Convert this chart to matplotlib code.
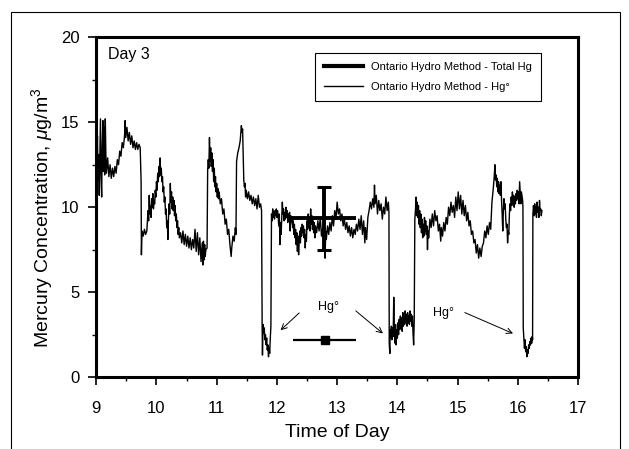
import matplotlib
matplotlib.use("Agg")
import matplotlib.pyplot as plt
from matplotlib.lines import Line2D
from matplotlib.patches import Rectangle

plt.rcParams['font.family'] = ['Liberation Sans', 'DejaVu Sans']
plt.rcParams['mathtext.fontset'] = 'custom'
plt.rcParams['mathtext.rm'] = 'Liberation Sans'
plt.rcParams['mathtext.it'] = 'Liberation Sans:italic'

# Hg0 trace (time of day, ug/m3)
time_h = [
    9.00, 9.01, 9.02, 9.03, 9.04, 9.05, 9.06, 9.07, 9.08, 9.09, 9.10, 9.11, 9.12, 9.13, 9.14, 9.15, 9.16, 9.17,
    9.19, 9.21, 9.23, 9.25, 9.27, 9.29, 9.31, 9.33, 9.35, 9.37, 9.39, 9.41, 9.43, 9.45, 9.47, 9.48, 9.49, 9.51,
    9.53, 9.55, 9.57, 9.59, 9.61, 9.63, 9.65, 9.67, 9.69, 9.71, 9.73, 9.745, 9.75, 9.76, 9.78, 9.80, 9.82, 9.84,
    9.86, 9.87, 9.88, 9.89, 9.90, 9.91, 9.92, 9.93, 9.94, 9.95, 9.96, 9.97, 9.98, 9.99, 10.00, 10.01, 10.02, 10.03,
    10.04, 10.05, 10.06, 10.07, 10.08, 10.09, 10.10, 10.11, 10.12, 10.13, 10.14, 10.15, 10.16, 10.17, 10.18, 10.19,
    10.20, 10.21, 10.22, 10.23, 10.24, 10.25, 10.26, 10.27, 10.28, 10.29, 10.30, 10.31, 10.32, 10.33, 10.34, 10.35,
    10.36, 10.37, 10.38, 10.40, 10.42, 10.44, 10.46, 10.48, 10.50, 10.52, 10.54, 10.56, 10.58, 10.60, 10.62, 10.64,
    10.66, 10.68, 10.70, 10.72, 10.74, 10.76, 10.77, 10.78, 10.79, 10.80, 10.81, 10.82, 10.84, 10.85, 10.86, 10.87,
    10.88, 10.89, 10.90, 10.91, 10.92, 10.93, 10.94, 10.95, 10.96, 10.97, 10.98, 10.99, 11.00, 11.01, 11.02, 11.03,
    11.04, 11.06, 11.08, 11.10, 11.12, 11.14, 11.16, 11.18, 11.20, 11.22, 11.24, 11.25, 11.27, 11.29, 11.31, 11.32,
    11.33, 11.35, 11.37, 11.39, 11.41, 11.42, 11.43, 11.44, 11.45, 11.46, 11.47, 11.48, 11.49, 11.51, 11.53, 11.55,
    11.57, 11.59, 11.61, 11.63, 11.65, 11.67, 11.69, 11.71, 11.73, 11.745, 11.755, 11.76, 11.77, 11.78, 11.79, 11.80,
    11.81, 11.82, 11.83, 11.84, 11.85, 11.86, 11.87, 11.88, 11.89, 11.90, 11.91, 11.92, 11.93, 11.94, 11.95, 11.96,
    11.97, 11.98, 11.99, 12.00, 12.01, 12.02, 12.03, 12.04, 12.05, 12.06, 12.07, 12.08, 12.09, 12.10, 12.11, 12.12,
    12.13, 12.14, 12.15, 12.16, 12.17, 12.18, 12.19, 12.20, 12.21, 12.22, 12.23, 12.24, 12.25, 12.26, 12.27, 12.28,
    12.29, 12.30, 12.31, 12.32, 12.33, 12.34, 12.35, 12.36, 12.37, 12.38, 12.39, 12.40, 12.41, 12.42, 12.43, 12.44,
    12.45, 12.46, 12.47, 12.48, 12.49, 12.50, 12.51, 12.52, 12.53, 12.54, 12.55, 12.56, 12.57, 12.58, 12.59, 12.60,
    12.61, 12.62, 12.63, 12.64, 12.66, 12.68, 12.70, 12.72, 12.74, 12.76, 12.78, 12.79, 12.80, 12.81, 12.82, 12.84,
    12.86, 12.88, 12.90, 12.92, 12.94, 12.96, 12.98, 13.00, 13.02, 13.04, 13.06, 13.08, 13.10, 13.12, 13.14, 13.16,
    13.18, 13.20, 13.22, 13.24, 13.26, 13.28, 13.30, 13.32, 13.34, 13.36, 13.38, 13.40, 13.42, 13.44, 13.46, 13.47,
    13.49, 13.51, 13.53, 13.55, 13.57, 13.59, 13.61, 13.62, 13.63, 13.65, 13.67, 13.69, 13.71, 13.73, 13.75, 13.77,
    13.79, 13.81, 13.83, 13.85, 13.86, 13.865, 13.875, 13.88, 13.89, 13.90, 13.91, 13.92, 13.93, 13.94, 13.95, 13.96,
    13.97, 13.98, 13.99, 14.00, 14.01, 14.02, 14.03, 14.04, 14.05, 14.06, 14.07, 14.08, 14.09, 14.10, 14.11, 14.12,
    14.13, 14.14, 14.15, 14.16, 14.17, 14.18, 14.19, 14.20, 14.21, 14.22, 14.23, 14.24, 14.25, 14.26, 14.27, 14.28,
    14.29, 14.30, 14.31, 14.32, 14.33, 14.34, 14.35, 14.36, 14.37, 14.38, 14.39, 14.40, 14.41, 14.42, 14.43, 14.44,
    14.45, 14.46, 14.47, 14.48, 14.49, 14.50, 14.51, 14.52, 14.54, 14.56, 14.58, 14.60, 14.62, 14.64, 14.66, 14.68,
    14.70, 14.72, 14.73, 14.75, 14.77, 14.79, 14.81, 14.83, 14.85, 14.87, 14.89, 14.91, 14.93, 14.95, 14.97, 14.99,
    15.01, 15.03, 15.05, 15.07, 15.09, 15.11, 15.13, 15.15, 15.17, 15.19, 15.21, 15.23, 15.25, 15.27, 15.29, 15.31,
    15.33, 15.35, 15.37, 15.39, 15.41, 15.43, 15.45, 15.47, 15.49, 15.51, 15.53, 15.55, 15.57, 15.59, 15.61, 15.62,
    15.63, 15.64, 15.65, 15.66, 15.67, 15.68, 15.69, 15.70, 15.71, 15.72, 15.73, 15.74, 15.75, 15.76, 15.77, 15.78,
    15.79, 15.80, 15.81, 15.82, 15.83, 15.84, 15.85, 15.86, 15.87, 15.88, 15.89, 15.90, 15.91, 15.92, 15.93, 15.94,
    15.95, 15.96, 15.97, 15.98, 15.99, 16.00, 16.01, 16.02, 16.03, 16.04, 16.05, 16.06, 16.08, 16.085, 16.09, 16.10,
    16.11, 16.12, 16.13, 16.14, 16.15, 16.16, 16.17, 16.18, 16.19, 16.20, 16.21, 16.22, 16.23, 16.24, 16.245, 16.25,
    16.26, 16.27, 16.28, 16.29, 16.30, 16.31, 16.32, 16.33, 16.34, 16.35, 16.36, 16.37, 16.38, 16.39, 16.40,
]
hg0 = [
    13.9, 12.4, 14.2, 11.6, 13.1, 10.7, 12.8, 15.2, 11.9, 10.6, 13.6, 15.1, 12.1, 14.7, 11.9, 15.2, 13.1, 12.0,
    12.9, 11.8, 12.5, 11.7, 12.3, 11.8, 12.4, 12.0, 12.8, 12.5, 13.3, 13.0, 13.8, 13.5, 14.2, 15.1, 14.1, 14.7,
    13.9, 14.4, 13.7, 14.2, 13.5, 13.9, 13.4, 13.8, 13.4, 13.7, 13.5, 11.5, 7.2, 8.6, 8.3, 8.7, 8.4, 8.6,
    9.8, 9.2, 10.7, 9.6, 10.1, 9.4, 10.5, 10.0, 10.8, 9.9, 10.4, 10.2, 11.0, 10.6, 11.5, 11.0, 12.0, 11.5,
    12.4, 11.8, 12.9, 11.9, 12.3, 11.5, 11.8, 10.9, 11.2, 10.3, 10.6, 9.6, 9.9, 8.8, 9.2, 8.1,
    9.4, 10.2, 9.6, 11.4, 10.3, 10.9, 9.9, 10.6, 9.8, 10.4, 9.5, 10.1, 9.2, 9.6, 8.8, 9.2,
    8.4, 8.8, 8.2, 8.5, 7.9, 8.6, 7.8, 8.4, 7.7, 8.3, 7.6, 8.2, 7.5, 8.1, 7.6, 8.7,
    7.4, 8.5, 7.2, 8.2, 6.8, 7.9, 6.6, 8.0, 6.9, 7.8, 7.1, 7.5, 7.6, 12.2, 12.8, 12.3,
    14.1, 12.7, 13.5, 12.4, 13.2, 12.1, 12.8, 11.5, 12.3, 11.2, 11.8, 10.9, 11.4, 10.6, 11.1, 10.5,
    10.9, 10.2, 10.5, 9.6, 9.9, 9.0, 9.3, 8.4, 8.7, 7.8, 7.1, 7.6, 8.3, 8.0, 8.8, 8.4,
    12.7, 13.2, 13.5, 13.9, 14.8, 14.4, 14.6, 13.0, 11.6, 11.2, 11.4, 10.6, 11.0, 10.5, 10.9, 10.4,
    10.7, 10.2, 10.6, 10.1, 10.5, 9.9, 10.7, 10.0, 10.2, 9.8, 2.9, 1.3, 3.1, 2.6, 2.9, 2.2,
    2.5, 1.9, 2.3, 1.6, 1.9, 1.2, 1.7, 1.4, 2.3, 3.0, 9.6, 9.2, 9.9, 9.4, 9.7, 9.3,
    9.8, 9.5, 9.9, 9.4, 9.8, 9.5, 8.9, 9.6, 7.8, 9.1, 8.4, 9.4, 10.3, 9.6, 9.9, 9.2,
    9.7, 9.3, 10.0, 9.4, 9.8, 9.1, 9.6, 9.2, 9.7, 8.6, 9.5, 9.1, 9.4, 8.8, 9.2, 8.4,
    9.0, 8.2, 8.7, 7.8, 8.5, 7.4, 8.3, 7.2, 8.0, 8.6, 7.9, 8.8, 8.3, 9.0, 8.5, 8.9,
    8.2, 8.7, 7.6, 8.4, 8.0, 9.2, 8.7, 9.6, 8.8, 9.3, 8.6, 9.9, 9.0, 9.5, 8.7, 9.2,
    8.5, 9.1, 8.2, 8.9, 8.5, 9.2, 8.6, 9.4, 8.3, 8.8, 7.8, 8.4, 7.0, 8.6, 8.1, 8.9,
    8.4, 9.1, 8.6, 9.5, 8.9, 9.8, 9.3, 10.3, 9.6, 9.9, 9.2, 9.6, 8.9, 9.3, 8.7, 9.1,
    8.5, 8.9, 8.3, 8.8, 8.2, 8.7, 8.4, 9.0, 8.6, 9.3, 8.7, 9.5, 8.4, 9.2, 7.9, 8.8,
    8.1, 9.4, 9.8, 10.3, 9.9, 10.5, 10.0, 11.3, 10.2, 10.7, 9.6, 10.4, 9.8, 10.2, 9.3, 10.0,
    9.6, 10.6, 9.8, 10.3, 9.7, 2.0, 1.4, 2.8, 2.3, 3.0, 2.2, 2.9, 2.4, 4.7, 2.6, 2.0,
    3.1, 1.9, 2.8, 2.3, 3.2, 2.5, 3.4, 2.8, 3.6, 2.9, 3.5, 2.7, 3.8, 3.0, 3.6, 3.1,
    3.9, 3.2, 3.7, 3.0, 3.8, 3.2, 3.6, 3.1, 3.9, 3.3, 3.7, 3.0, 3.6, 2.6, 1.9, 3.4,
    9.3, 9.8, 10.6, 9.5, 10.3, 9.4, 10.1, 9.0, 9.8, 8.8, 9.6, 8.5, 9.3, 8.2, 9.0, 8.3,
    9.4, 8.6, 9.2, 8.4, 8.9, 7.5, 8.6, 8.2, 9.3, 8.8, 9.6, 8.9, 9.8, 9.2, 9.5, 8.6,
    9.0, 8.0, 8.8, 8.3, 9.1, 8.6, 9.4, 9.0, 10.0, 9.5, 10.3, 9.7, 10.1, 9.4, 10.6, 9.8,
    10.9, 9.9, 10.7, 9.6, 10.4, 9.5, 10.1, 9.2, 9.7, 8.9, 9.2, 8.4, 8.6, 7.9, 8.1, 7.3,
    7.8, 7.0, 7.6, 7.1, 7.7, 7.9, 8.6, 8.2, 8.9, 8.4, 9.1, 8.7, 10.3, 11.0, 11.9, 12.5,
    11.6, 11.9, 11.2, 11.7, 10.9, 11.5, 10.8, 11.3, 10.7, 11.5, 10.4, 9.6, 8.6, 9.8, 10.5, 9.9,
    10.2, 9.3, 8.8, 9.0, 7.9, 8.6, 8.4, 9.6, 10.2, 9.8, 10.6, 10.1, 10.9, 10.3, 10.7, 10.0,
    10.6, 10.2, 10.8, 10.4, 11.0, 10.5, 10.9, 10.2, 11.5, 10.8, 10.2, 10.9, 10.4, 10.0, 2.9, 2.3,
    1.7, 2.2, 1.5, 1.8, 1.2, 1.6, 1.4, 1.9, 1.7, 2.1, 1.9, 2.3, 2.0, 2.4, 2.2, 9.6,
    10.1, 9.5, 10.2, 9.6, 10.0, 9.4, 10.3, 9.7, 10.0, 9.4, 10.4, 9.8, 9.9, 9.5, 9.8,
]

# Ontario Hydro method results (sample period and spread)
oh_time = 12.78
oh_start = 12.18
oh_end = 13.32
oh_total = 9.35
oh_total_err = 1.85
oh_hg0_time = 12.8
oh_hg0_start = 12.27
oh_hg0_end = 13.32
oh_hg0 = 2.18

fig = plt.figure(figsize=(6.29, 4.49), dpi=100)
ax = fig.add_axes([0.153, 0.160, 0.766, 0.757])

ax.plot(time_h, hg0, color='black', lw=1.0)

# Total Hg: sampling period as a thick bar, spread as capped error bar
ax.errorbar(oh_time, oh_total, xerr=[[oh_time - oh_start], [oh_end - oh_time]],
            color='black', lw=2.8, capsize=0)
ax.errorbar(oh_time, oh_total, yerr=oh_total_err, color='black', lw=2.8,
            capsize=5, capthick=2.2)
# Hg0 from the Ontario Hydro train
ax.errorbar(oh_hg0_time, oh_hg0, xerr=[[oh_hg0_time - oh_hg0_start], [oh_hg0_end - oh_hg0_time]],
            color='black', lw=1.6, marker='s', ms=6, capsize=0)

arrow = dict(arrowstyle='->', color='black', lw=0.7, shrinkA=0, shrinkB=0)
ax.text(12.85, 4.1, 'Hg°', fontsize=9, ha='center', va='center')
ax.annotate('', xy=(12.06, 2.76), xytext=(12.37, 3.78), arrowprops=arrow)
ax.annotate('', xy=(13.76, 2.57), xytext=(13.31, 3.9), arrowprops=arrow)
ax.text(14.77, 3.8, 'Hg°', fontsize=9, ha='center', va='center')
ax.annotate('', xy=(15.92, 2.57), xytext=(15.12, 3.8), arrowprops=arrow)

ax.text(9.2, 19.0, 'Day 3', fontsize=11.5, ha='left', va='center')

ax.set_xlim(9, 17)
ax.set_ylim(0, 20)
ax.set_xticks(range(9, 18))
ax.set_xticks([x + 0.5 for x in range(9, 17)], minor=True)
ax.set_yticks([0, 5, 10, 15, 20])
ax.set_yticks([2.5, 7.5, 12.5, 17.5], minor=True)
ax.tick_params(which='major', direction='out', length=6, width=1.2, labelsize=12)
ax.tick_params(axis='x', which='major', pad=11)
ax.tick_params(axis='y', which='major', pad=6)
ax.tick_params(which='minor', direction='out', length=3, width=1.0)
for s in ax.spines.values():
    s.set_linewidth(2.2)

ax.set_xlabel('Time of Day', fontsize=14, labelpad=6)
ax.set_ylabel(r'Mercury Concentration, $\mu$g/m$^3$', fontsize=14)
ax.yaxis.set_label_coords(-0.086, 0.47)

handles = [Line2D([], [], color='black', lw=3),
           Line2D([], [], color='black', lw=1)]
labels = ['Ontario Hydro Method - Total Hg', 'Ontario Hydro Method - Hg°']
leg = ax.legend(handles, labels, loc='upper right', bbox_to_anchor=(0.935, 0.97),
                fontsize=8, fancybox=False, framealpha=1, edgecolor='black',
                handlelength=3.5, borderpad=0.8, labelspacing=0.9)
leg.get_frame().set_linewidth(0.8)

# thin frame around the whole figure
fig.patches.append(Rectangle((0.0175, -0.02), 0.9685, 0.993, transform=fig.transFigure,
                             fill=False, edgecolor='black', lw=0.8))

fig.savefig('out.png', dpi=100)
